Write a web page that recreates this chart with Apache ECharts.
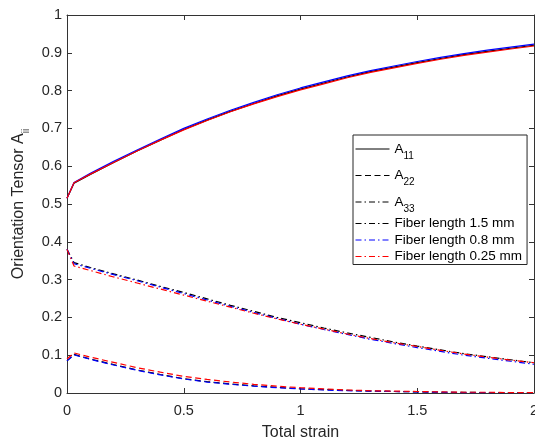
<!DOCTYPE html>
<html>
<head>
<meta charset="utf-8">
<script src="https://cdn.jsdelivr.net/npm/echarts@6/dist/echarts.min.js"></script>
<style>
html,body{margin:0;padding:0;background:#fff;}
#chart{width:535px;height:444px;}
</style>
</head>
<body>
<div id="chart"></div>
<script>
var strain = [0, 0.03, 0.1, 0.2, 0.3, 0.4, 0.5, 0.6, 0.7, 0.8, 0.9, 1.0, 1.1, 1.2, 1.3, 1.4, 1.5, 1.6, 1.7, 1.8, 1.9, 2.0];

var a11_15 = [0.515, 0.555, 0.578, 0.610, 0.640, 0.669, 0.697, 0.722, 0.745, 0.766, 0.786, 0.804, 0.820, 0.836, 0.850, 0.862, 0.874, 0.885, 0.895, 0.904, 0.912, 0.920];
var a11_08 = [0.515, 0.557, 0.581, 0.613, 0.643, 0.672, 0.700, 0.725, 0.748, 0.769, 0.789, 0.807, 0.823, 0.839, 0.853, 0.865, 0.877, 0.888, 0.898, 0.907, 0.915, 0.923];
var a11_025 = [0.515, 0.556, 0.579, 0.610, 0.640, 0.669, 0.696, 0.721, 0.744, 0.765, 0.784, 0.802, 0.818, 0.834, 0.848, 0.860, 0.872, 0.883, 0.893, 0.902, 0.910, 0.918];

var a22_15 = [0.085, 0.102, 0.090, 0.075, 0.061, 0.049, 0.038, 0.030, 0.024, 0.019, 0.015, 0.011, 0.009, 0.007, 0.005, 0.004, 0.003, 0.002, 0.002, 0.001, 0.001, 0.001];
var a22_08 = [0.085, 0.101, 0.089, 0.074, 0.060, 0.048, 0.037, 0.029, 0.023, 0.018, 0.014, 0.011, 0.008, 0.006, 0.005, 0.004, 0.003, 0.002, 0.001, 0.001, 0.001, 0.001];
var a22_025 = [0.090, 0.106, 0.095, 0.081, 0.067, 0.055, 0.044, 0.036, 0.029, 0.023, 0.018, 0.014, 0.011, 0.008, 0.006, 0.005, 0.004, 0.003, 0.002, 0.002, 0.001, 0.001];

var a33_15 = [0.380, 0.345, 0.332, 0.315, 0.299, 0.282, 0.266, 0.249, 0.232, 0.216, 0.200, 0.186, 0.172, 0.159, 0.147, 0.135, 0.124, 0.114, 0.104, 0.096, 0.088, 0.080];
var a33_08 = [0.380, 0.342, 0.330, 0.313, 0.297, 0.280, 0.263, 0.246, 0.229, 0.213, 0.197, 0.182, 0.168, 0.155, 0.142, 0.131, 0.120, 0.110, 0.100, 0.092, 0.084, 0.076];
var a33_025 = [0.380, 0.336, 0.324, 0.307, 0.291, 0.275, 0.259, 0.243, 0.227, 0.211, 0.196, 0.182, 0.169, 0.156, 0.144, 0.133, 0.123, 0.113, 0.103, 0.095, 0.087, 0.080];

var xTicks = [0, 0.5, 1, 1.5, 2];
var legendNames = ['A11', 'A22', 'A33', 'Fiber length 1.5 mm', 'Fiber length 0.8 mm', 'Fiber length 0.25 mm'];

var DASH = [6, 3.5];
var DASHDOT = [6, 3, 1.5, 3];
var FONT = "'Liberation Sans', Arial, Helvetica, sans-serif";
var AX = '#333333';

function pairs(ys) { return strain.map(function (x, i) { return [x, ys[i]]; }); }

function curve(name, ys, color, type) {
  return {
    name: name, type: 'line', data: pairs(ys), symbol: 'none', showSymbol: false,
    xAxisIndex: 0, yAxisIndex: 0, silent: true,
    lineStyle: { color: color, width: 1.2, type: type }
  };
}
function dummy(name, color, type) {
  return {
    name: name, type: 'line', data: [], symbol: 'none', showSymbol: false,
    xAxisIndex: 0, yAxisIndex: 0,
    itemStyle: { color: color, opacity: 0 },
    lineStyle: { color: color, width: 1, type: type, opacity: 1 }
  };
}

var series = [
  curve('A11 1.5', a11_15, '#000000', 'solid'),
  curve('A22 1.5', a22_15, '#000000', DASH),
  curve('A33 1.5', a33_15, '#000000', DASHDOT),
  curve('A11 0.8', a11_08, '#0000ff', 'solid'),
  curve('A22 0.8', a22_08, '#0000ff', DASH),
  curve('A33 0.8', a33_08, '#0000ff', DASHDOT),
  curve('A11 0.25', a11_025, '#ff0000', 'solid'),
  curve('A22 0.25', a22_025, '#ff0000', DASH),
  curve('A33 0.25', a33_025, '#ff0000', DASHDOT),
  dummy(legendNames[0], '#000000', 'solid'),
  dummy(legendNames[1], '#000000', DASH),
  dummy(legendNames[2], '#000000', DASHDOT),
  dummy(legendNames[3], '#000000', DASHDOT),
  dummy(legendNames[4], '#0000ff', DASHDOT),
  dummy(legendNames[5], '#ff0000', DASHDOT)
];

var xBase = { type: 'value', min: xTicks[0], max: xTicks[xTicks.length - 1], interval: 0.5,
  splitLine: { show: false },
  axisLine: { show: true, onZero: false, lineStyle: { color: AX, width: 1 } },
  axisTick: { show: true, inside: true, length: 5, lineStyle: { color: AX } } };
var yBase = { type: 'value', min: 0, max: 1, interval: 0.1,
  splitLine: { show: false },
  axisLine: { show: true, onZero: false, lineStyle: { color: AX, width: 1 } },
  axisTick: { show: true, inside: true, length: 5, lineStyle: { color: AX } } };

var chart = echarts.init(document.getElementById('chart'), null, { renderer: 'canvas' });
chart.setOption({
  animation: false,
  backgroundColor: '#ffffff',
  textStyle: { fontFamily: FONT },
  grid: { left: 67, right: 1, top: 15, bottom: 51, containLabel: false, outerBoundsMode: 'none' },
  xAxis: [
    Object.assign({}, xBase, {
      position: 'bottom',
      name: 'Total strain', nameLocation: 'middle', nameGap: 32,
      nameTextStyle: { fontFamily: FONT, fontSize: 16, color: '#262626' },
      axisLabel: { show: true, margin: 10, fontFamily: FONT, fontSize: 14.5, color: '#262626' }
    }),
    Object.assign({}, xBase, { position: 'top', axisLabel: { show: false } })
  ],
  yAxis: [
    Object.assign({}, yBase, {
      position: 'left',
      name: '{a|Orientation Tensor A}{s|ii}', nameLocation: 'middle', nameGap: 34, nameRotate: 90,
      nameTextStyle: {
        fontFamily: FONT, color: '#262626',
        rich: {
          a: { fontFamily: FONT, fontSize: 16, lineHeight: 26, color: '#262626' },
          s: { fontFamily: FONT, fontSize: 10, lineHeight: 10, padding: [15, 0, 0, 0], color: '#262626' }
        }
      },
      axisLabel: { show: true, margin: 5, fontFamily: FONT, fontSize: 14.5, color: '#262626' }
    }),
    Object.assign({}, yBase, { position: 'right', axisLabel: { show: false } })
  ],
  legend: {
    data: legendNames,
    orient: 'vertical',
    left: 353, top: 135,
    itemWidth: 34, itemHeight: 12, itemGap: 2.5,
    padding: [2, 5, 1, 2],
    backgroundColor: '#ffffff',
    borderColor: '#262626', borderWidth: 1, borderRadius: 0,
    selectedMode: false,
    itemStyle: { opacity: 0 },
    lineStyle: { width: 1 },
    formatter: function (name) {
      if (/^A\d\d$/.test(name)) { return '{a|A}{s|' + name.slice(1) + '}'; }
      return '{b|' + name + '}';
    },
    textStyle: {
      fontFamily: FONT, fontSize: 13.5, color: '#000000',
      rich: {
        a: { fontFamily: FONT, fontSize: 13.5, lineHeight: 24, color: '#000' },
        s: { fontFamily: FONT, fontSize: 10, lineHeight: 10, padding: [14, 0, 0, 0], color: '#000' },
        b: { fontFamily: FONT, fontSize: 13.5, lineHeight: 16, color: '#000' }
      }
    }
  },
  series: series
});
</script>
</body>
</html>
